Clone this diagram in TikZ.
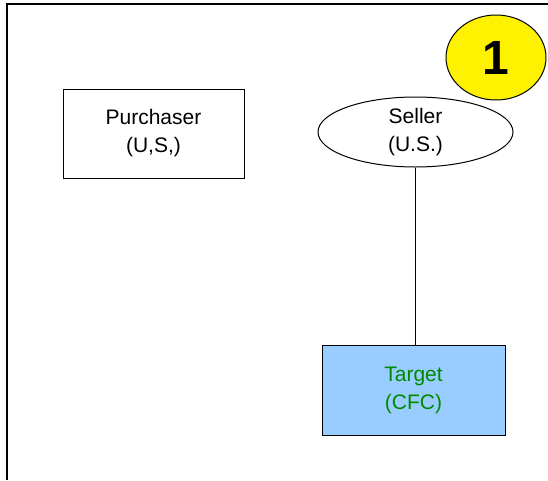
\documentclass[tikz,border=0pt]{standalone}
\usepackage{fontspec}
\setmainfont{Liberation Sans}
\usepackage{tikz}
\usetikzlibrary{positioning,shapes.geometric}

\definecolor{cfcblue}{HTML}{99CCFF}
\definecolor{cfcgreen}{HTML}{008A00}

\begin{document}
\begin{tikzpicture}[
  x=1pt, y=-1pt,
  box/.style={draw, line width=1pt, minimum width=181pt, minimum height=89pt, align=center, inner sep=0pt,
    font=\fontsize{21}{28}\selectfont},
  oval/.style={ellipse, draw, line width=1pt, minimum width=195pt, minimum height=70pt, align=center, inner sep=0pt,
    font=\fontsize{21}{28}\selectfont},
  badge/.style={ellipse, draw, line width=1pt, fill=yellow, minimum width=100pt, minimum height=85pt, inner sep=0pt,
    font=\fontsize{48}{48}\selectfont\bfseries},
  link/.style={line width=1pt}
]
\useasboundingbox (0,0) rectangle (548,480);
% frame
\draw[line width=2pt] (7,480) -- (7,4) -- (548,4);

\node[box] (buyer) at (153.5,133.5) {Purchaser\\(U,S,)};
\node[oval] (seller) at (415.5,132) {Seller\\(U.S.)};
\node[box, fill=cfcblue, text=cfcgreen, minimum width=183pt, minimum height=90pt] (target) at (413.5,390) {Target\\(CFC)};
\node[badge] (num) at (496,57.5) {1};

\draw[link] (seller.south) -- (seller.south |- target.north);
\end{tikzpicture}
\end{document}
